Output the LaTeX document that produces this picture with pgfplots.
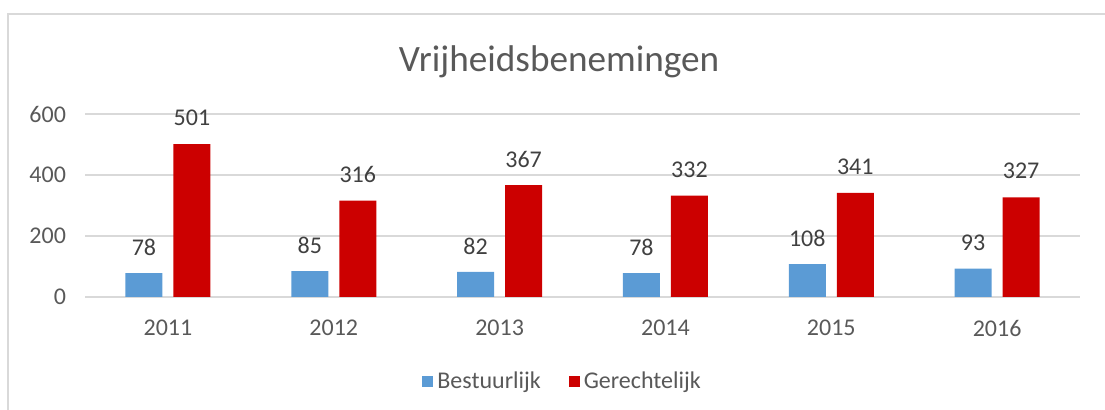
\documentclass[border=0pt]{standalone}
\usepackage{pgfplots}
\pgfplotsset{compat=1.18}
\usepackage{fontspec}
\setmainfont{Carlito}

\definecolor{bestuur}{HTML}{5B9BD5}
\definecolor{gerecht}{HTML}{CC0000}
\definecolor{txtgray}{HTML}{595959}
\definecolor{lblgray}{HTML}{404040}
\definecolor{gridgray}{HTML}{D9D9D9}

\begin{document}
\begin{tikzpicture}
\useasboundingbox (0,0) rectangle (552.5pt,205pt);
\draw[gridgray, line width=0.6pt] (4pt,-10pt) -- (4pt,198pt) -- (570pt,198pt);
\node[font=\fontsize{18.6}{22}\selectfont, text=txtgray] at (279.5pt,174pt) {Vrijheidsbenemingen};
\begin{axis}[
    at={(42.5pt,56.5pt)}, anchor=south west,
    scale only axis,
    width=497.5pt, height=91.5pt,
    xmin=-0.5, xmax=5.5,
    ymin=0, ymax=600,
    ytick={0,200,400,600},
    xtick={0,...,5},
    xticklabels={2011,2012,2013,2014,2015,2016},
    ybar, bar width=18.5pt,
    axis line style={draw=none},
    ymajorgrids, grid style={gridgray, line width=0.6pt},
    major tick length=0pt,
    tick label style={font=\fontsize{12}{14}\selectfont, text=txtgray},
    /pgf/number format/assume math mode=true,
    xticklabel style={yshift=-8pt},
    yticklabel style={xshift=-6pt},
    nodes near coords,
    every node near coord/.append style={font=\fontsize{12}{14}\selectfont, text=lblgray, anchor=center, yshift=13pt},
    legend style={at={(0.481,-0.464)}, anchor=center, draw=none, legend columns=2,
        font=\fontsize{12}{14}\selectfont, text=txtgray,
        /tikz/every even column/.append style={column sep=12pt}},
    legend image code/.code={\fill[#1] (0pt,-2.75pt) rectangle (5.5pt,2.75pt);},
]
\addplot[draw=none, fill=bestuur, bar shift=-12pt] coordinates {(0,78) (1,85) (2,82) (3,78) (4,108) (5,93)};
\addlegendentry{Bestuurlijk}
\addplot[draw=none, fill=gerecht, bar shift=12pt] coordinates {(0,501) (1,316) (2,367) (3,332) (4,341) (5,327)};
\addlegendentry{Gerechtelijk}
\end{axis}
\end{tikzpicture}
\end{document}
